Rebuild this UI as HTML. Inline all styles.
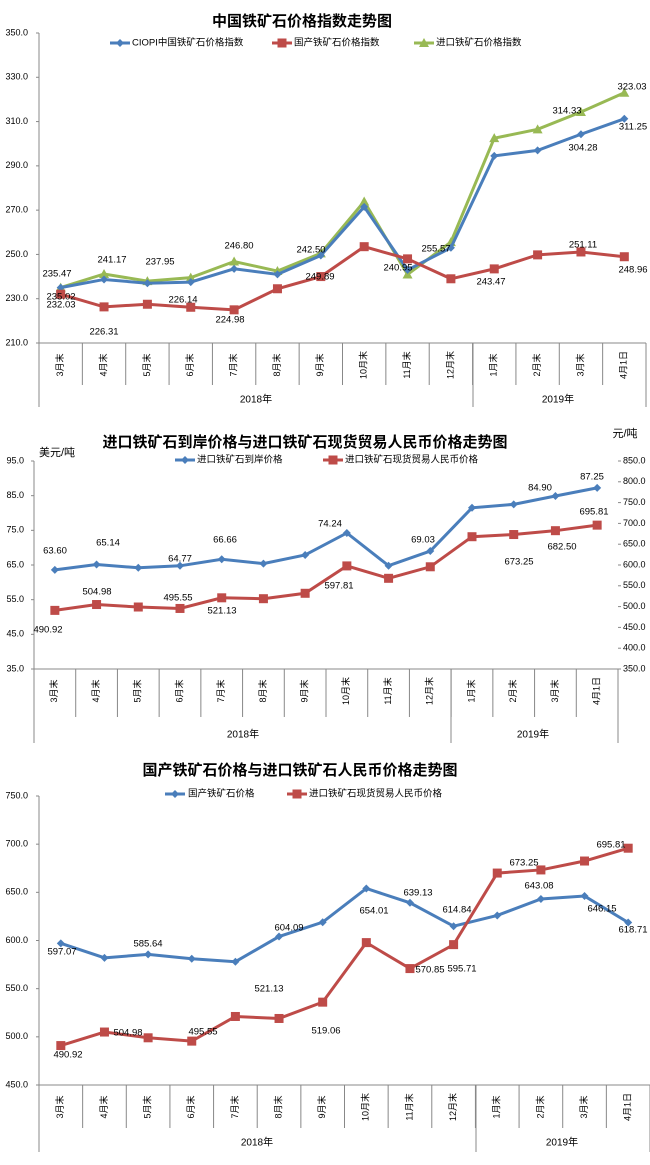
<!DOCTYPE html>
<html><head><meta charset="utf-8"><style>
html,body{margin:0;padding:0;background:#fff;}
svg{display:block;font-family:"Liberation Sans","Noto Sans CJK SC",sans-serif;}
</style></head><body>
<svg id="s" width="650" height="1165" xmlns="http://www.w3.org/2000/svg"></svg>
<script>
const S=document.getElementById('s');let h='';
const cats=['3月末','4月末','5月末','6月末','7月末','8月末','9月末','10月末','11月末','12月末','1月末','2月末','3月末','4月1日'];
const BL='#4a7ebb',RD='#be4b48',GR='#98b954';
function T(x,y,t,o){o=o||{};h+=`<text x="${x}" y="${y}" font-size="${o.s||10}" text-anchor="${o.a||'middle'}" font-weight="${o.w||'normal'}" fill="#000" ${o.tr?`transform="${o.tr}"`:''} dominant-baseline="middle">${t}</text>`;}
function L(x1,y1,x2,y2,c,w){h+=`<line x1="${x1}" y1="${y1}" x2="${x2}" y2="${y2}" stroke="${c||'#888'}" stroke-width="${w||1}"/>`;}
function mk(x,y,c,t){if(t=='d')h+=`<path d="M${x} ${y-4}L${x+4} ${y}L${x} ${y+4}L${x-4} ${y}Z" fill="${c}"/>`;else if(t=='s')h+=`<rect x="${x-4.5}" y="${y-4.5}" width="9" height="9" fill="${c}"/>`;else h+=`<path d="M${x} ${y-5}L${x+5} ${y+4}L${x-5} ${y+4}Z" fill="${c}"/>`;}
function series(xs,ys,c,t){h+=`<polyline points="${xs.map((x,i)=>x+','+ys[i]).join(' ')}" fill="none" stroke="${c}" stroke-width="3"/>`;xs.forEach((x,i)=>mk(x,ys[i],c,t));}
function axis(x0,x1,top,bot,sepB,yrB,div,y18,y19x,y18x){
 L(x0,top,x0,yrB);L(x0,bot,x1,bot);
 const w=(x1-x0)/14;
 for(let i=0;i<14;i++){const cx=x0+w*(i+.5);T(cx,bot+22,cats[i],{s:9,tr:`rotate(-90 ${cx} ${bot+22})`});if(i>0)L(x0+w*i,bot,x0+w*i,sepB);}
 L(x1,bot,x1,yrB);L(div,bot,div,yrB);
 T(y18x,y18,'2018年',{s:10});T(y19x,y18,'2019年',{s:10});
 return i=>x0+w*(i+.5);
}
// Chart 1
{const top=33,bot=343,f=v=>bot-(v-210)/140*(bot-top);
[350,330,310,290,270,250,230,210].forEach(v=>{T(28,f(v),v.toFixed(1),{s:9,a:'end'});L(36,f(v),39,f(v));});
const X=axis(39,646,top,bot,385,407,473,400,558,256);
T(302,22,'中国铁矿石价格指数走势图',{s:15,w:'bold'});
L(110,43,130,43,BL,3);mk(120,43,BL,'d');T(132,43,'CIOPI中国铁矿石价格指数',{s:9.5,a:'start'});
L(272,43,292,43,RD,3);mk(282,43,RD,'s');T(294,43,'国产铁矿石价格指数',{s:9.5,a:'start'});
L(414,43,434,43,GR,3);mk(424,43,GR,'t');T(436,43,'进口铁矿石价格指数',{s:9.5,a:'start'});
const xs=cats.map((_,i)=>X(i));
series(xs,[235.02,241.17,237.95,239.5,246.8,242.5,250.5,273.9,240.95,255.57,302.5,306.5,314.33,323.03].map(f),GR,'t');
series(xs,[235,238.7,237,237.5,243.5,241,249.5,271.5,243,253,294.5,297,304.28,311.25].map(f),BL,'d');
series(xs,[232.03,226.31,227.5,226.14,224.98,234.5,240,253.5,248,239,243.47,249.8,251.11,248.96].map(f),RD,'s');
[['235.47',57,274],['241.17',112,260],['237.95',160,262],['246.80',239,246],['242.50',311,250],['249.89',320,277],['235.02',61,297],['232.03',61,305],['226.31',104,332],['226.14',183,300],['224.98',230,320],['255.57',436,249],['240.95',398,268],['243.47',491,282],['251.11',583,245],['248.96',633,270],['304.28',583,148],['311.25',633,127],['314.33',567,111],['323.03',632,87]].forEach(a=>T(a[1],a[2],a[0],{s:9.5}));
}
// Chart 2
{const top=461,bot=669,f=v=>bot-(v-35)/60*(bot-top),g=v=>bot-(v-350)/500*(bot-top);
[95,85,75,65,55,45,35].forEach(v=>{T(24,f(v),v.toFixed(1),{s:9,a:'end'});L(31,f(v),34,f(v));});
for(let v=350;v<=850;v+=50){T(623,g(v),v.toFixed(1),{s:9,a:'start'});L(618,g(v),621,g(v));}
const X=axis(34,618,top,bot,717,743,451,735,533,243);
T(305,443,'进口铁矿石到岸价格与进口铁矿石现货贸易人民币价格走势图',{s:15,w:'bold'});
T(57,453,'美元/吨',{s:11});T(625,434,'元/吨',{s:11});
L(175,460,195,460,BL,3);mk(185,460,BL,'d');T(197,460,'进口铁矿石到岸价格',{s:9.5,a:'start'});
L(323,460,343,460,RD,3);mk(333,460,RD,'s');T(345,460,'进口铁矿石现货贸易人民币价格',{s:9.5,a:'start'});
const xs=cats.map((_,i)=>X(i));
series(xs,[63.6,65.14,64.2,64.77,66.66,65.4,67.9,74.24,64.8,69.03,81.5,82.5,84.9,87.25].map(f),BL,'d');
series(xs,[490.92,504.98,499,495.55,521.13,519,532,597.81,568,595.71,668,673.25,682.5,695.81].map(g),RD,'s');
[['63.60',55,551],['65.14',108,543],['64.77',180,559],['66.66',225,540],['74.24',330,524],['69.03',423,540],['84.90',540,488],['87.25',592,477],['504.98',97,592],['495.55',178,598],['521.13',222,611],['490.92',48,630],['597.81',339,586],['673.25',519,562],['682.50',562,547],['695.81',594,512]].forEach(a=>T(a[1],a[2],a[0],{s:9.5}));
}
// Chart 3
{const top=796,bot=1085,f=v=>bot-(v-450)/300*(bot-top);
[750,700,650,600,550,500,450].forEach(v=>{T(28,f(v),v.toFixed(1),{s:9,a:'end'});L(36,f(v),39,f(v));});
const X=axis(39,650,top,bot,1128,1152,476,1143,562,257);
T(300,771,'国产铁矿石价格与进口铁矿石人民币价格走势图',{s:15,w:'bold'});
L(165,794,185,794,BL,3);mk(175,794,BL,'d');T(188,794,'国产铁矿石价格',{s:9.5,a:'start'});
L(287,794,307,794,RD,3);mk(297,794,RD,'s');T(309,794,'进口铁矿石现货贸易人民币价格',{s:9.5,a:'start'});
const xs=cats.map((_,i)=>X(i));
series(xs,[597.07,582,585.64,581,578,604.09,619,654.01,639.13,614.84,626,643.08,646.15,618.71].map(f),BL,'d');
series(xs,[490.92,504.98,499,495.55,521.13,519.06,536,597.81,570.85,595.71,670,673.25,682.5,695.81].map(f),RD,'s');
[['597.07',62,952],['585.64',148,944],['604.09',289,928],['654.01',374,911],['639.13',418,893],['614.84',457,910],['643.08',539,886],['646.15',602,909],['618.71',633,930],['695.81',611,845],['673.25',524,863],['570.85',430,970],['595.71',462,969],['521.13',269,989],['519.06',326,1031],['504.98',128,1033],['495.55',203,1032],['490.92',68,1055]].forEach(a=>T(a[1],a[2],a[0],{s:9.5}));
}
S.innerHTML=h;
</script>
</body></html>
